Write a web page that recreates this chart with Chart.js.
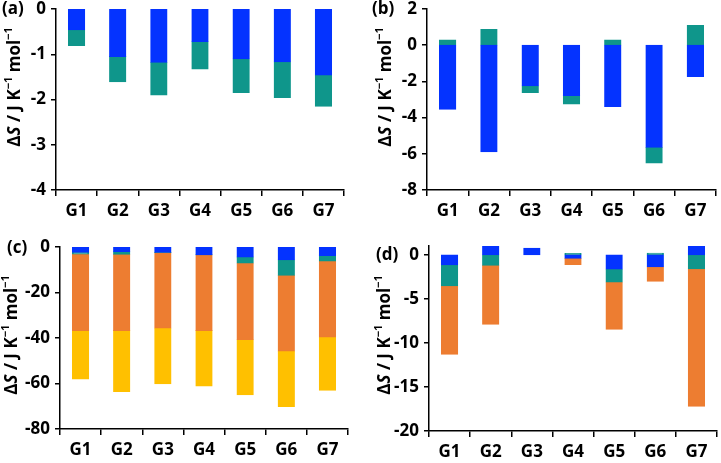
<!DOCTYPE html>
<html>
<head>
<meta charset="utf-8">
<script src="https://cdn.jsdelivr.net/npm/chart.js@4/dist/chart.umd.min.js"></script>
<style>
  html, body { margin: 0; padding: 0; background: #fff; }
  #wrap { position: relative; width: 721px; height: 463px; overflow: hidden; }
  .p { position: absolute; }
</style>
</head>
<body>
<div id="wrap">
  <div class="p" style="left:0;top:0;width:360px;height:231px"><canvas id="ca"></canvas></div>
  <div class="p" style="left:360px;top:0;width:361px;height:231px"><canvas id="cb"></canvas></div>
  <div class="p" style="left:0;top:231px;width:360px;height:232px"><canvas id="cc"></canvas></div>
  <div class="p" style="left:360px;top:231px;width:361px;height:232px"><canvas id="cd"></canvas></div>
</div>
<script>
// ---- data ----
const categories = ['G1', 'G2', 'G3', 'G4', 'G5', 'G6', 'G7'];

const aBlue = [-0.46, -1.05, -1.18, -0.72, -1.10, -1.17, -1.46];
const aTeal = [-0.35, -0.56, -0.72, -0.61, -0.75, -0.79, -0.69];
const aTicks = [0, -1, -2, -3, -4];

const bBlue = [-3.55, -5.89, -2.25, -2.78, -3.39, -5.65, -1.73];
const bTeal = [0.29, 0.87, -0.37, -0.48, 0.29, -0.87, 1.10];
const bTicks = [2, 0, -2, -4, -6, -8];

const cBlue = [-2.35, -2.05, -2.4, -3.4, -4.4, -5.7, -3.8];
const cTeal = [-0.75, -1.15, -0.1, -0.1, -2.65, -6.8, -2.4];
const cOrange = [-33.6, -33.5, -33.2, -33.2, -33.65, -33.3, -33.4];
const cYellow = [-21.4, -26.9, -24.5, -24.4, -24.3, -24.4, -23.4];
const cTicks = [0, -20, -40, -60, -80];

const dBlue = [-1.14, 0.98, 0.76, -0.4, -1.63, -1.36, 0.98];
const dTeal = [-2.38, -1.21, 0, 0.15, -1.47, 0.2, -1.59];
const dOrange = [-7.77, -6.67, 0, -0.7, -5.35, -1.64, -15.61];
const dTicks = [0, -5, -10, -15, -20];

const panelLabels = ['(a)', '(b)', '(c)', '(d)'];

// ---- styles ----
const COL = { blue: '#0433FF', teal: '#0F968B', orange: '#ED7D31', yellow: '#FFC000' };
const FONT = '"Open Sans", "Liberation Sans", sans-serif';
const FS = 17;

function ds(label, data, color) {
  return { label, data, backgroundColor: color, borderColor: color, borderWidth: 1,
           borderSkipped: false, inflateAmount: 0.4,
           barPercentage: 0.4, categoryPercentage: 1.0 };
}

const textPlugin = {
  id: 'panelText',
  afterDraw(chart, args, opts) {
    const ctx = chart.ctx;
    ctx.save();
    ctx.fillStyle = '#000';
    ctx.textBaseline = 'middle';
    ctx.textAlign = 'left';
    ctx.font = 'bold ' + FS + 'px ' + FONT;
    ctx.fillText(opts.label, opts.lx, opts.ly);
    // y-axis title with italic S and superscripts
    const big = 'bold 17px ' + FONT, ital = 'italic bold 17px ' + FONT, small = 'bold 11px ' + FONT;
    const pieces = [
      { t: 'Δ', f: big, dy: 0 }, { t: 'S', f: ital, dy: 0 }, { t: ' / J K', f: big, dy: 0 },
      { t: '−1', f: small, dy: -6 }, { t: ' mol', f: big, dy: 0 }, { t: '−1', f: small, dy: -6 }
    ];
    let total = 0;
    pieces.forEach(p => { ctx.font = p.f; p.w = ctx.measureText(p.t).width; total += p.w; });
    ctx.translate(opts.tx, opts.ty);
    ctx.rotate(-Math.PI / 2);
    let x = -total / 2;
    pieces.forEach(p => { ctx.font = p.f; ctx.fillText(p.t, x, p.dy); x += p.w; });
    ctx.restore();
  }
};

function make(id, datasets, y, box, txt) {
  return new Chart(document.getElementById(id), {
    type: 'bar',
    data: { labels: categories, datasets },
    options: {
      responsive: true, maintainAspectRatio: false, animation: false,
      layout: { padding: { top: box.top, right: box.right, left: 0, bottom: 0 } },
      plugins: { legend: { display: false }, tooltip: { enabled: false }, panelText: txt },
      scales: {
        x: {
          stacked: true,
          grid: { display: true, drawOnChartArea: false, drawTicks: true, tickLength: 6,
                  color: '#000', lineWidth: 1.5, offset: true },
          border: { display: true, color: '#000', width: 1.5 },
          ticks: { font: { family: FONT, size: FS, weight: 'bold' }, color: '#000', padding: 5,
                   maxRotation: 0 },
          afterFit: s => { s.height = box.xh; s.paddingLeft = 0; s.paddingRight = 0; }
        },
        y: {
          stacked: true, min: y.min, max: y.max,
          afterBuildTicks: s => {
            s.ticks = y.ticks.map(v => ({ value: v }));
            // bars should meet exactly at zero (no gap reserved for a zero grid line)
            s.getLineWidthForValue = () => 0;
          },
          grid: { display: true, drawOnChartArea: false, drawTicks: true, tickLength: 5,
                  color: '#000', lineWidth: 1.5 },
          border: { display: true, color: '#000', width: 1.5 },
          ticks: { font: { family: FONT, size: FS, weight: 'bold' }, color: '#000', padding: 5 },
          afterFit: s => { s.width = box.yw; s.paddingTop = 0; s.paddingBottom = 0; }
        }
      }
    },
    plugins: [textPlugin]
  });
}

make('ca', [ds('blue', aBlue, COL.blue), ds('teal', aTeal, COL.teal)],
     { min: -4, max: 0, ticks: aTicks }, { top: 9, right: 16, yw: 56, xh: 41 },
     { label: panelLabels[0], lx: 2, ly: 9, tx: 15, ty: 87 });
make('cb', [ds('blue', bBlue, COL.blue), ds('teal', bTeal, COL.teal)],
     { min: -8, max: 2, ticks: bTicks }, { top: 9, right: 5, yw: 67, xh: 41 },
     { label: panelLabels[1], lx: 12, ly: 9, tx: 26, ty: 87 });
make('cc', [ds('blue', cBlue, COL.blue), ds('teal', cTeal, COL.teal),
            ds('orange', cOrange, COL.orange), ds('yellow', cYellow, COL.yellow)],
     { min: -80, max: 0, ticks: cTicks }, { top: 16, right: 12, yw: 60, xh: 34 },
     { label: panelLabels[2], lx: 7, ly: 17, tx: 12, ty: 104 });
make('cd', [ds('blue', dBlue, COL.blue), ds('teal', dTeal, COL.teal), ds('orange', dOrange, COL.orange)],
     { min: -20, max: 1, ticks: dTicks }, { top: 15, right: 4, yw: 69, xh: 32 },
     { label: panelLabels[3], lx: 16, ly: 24, tx: 25, ty: 104 });
</script>
</body>
</html>
